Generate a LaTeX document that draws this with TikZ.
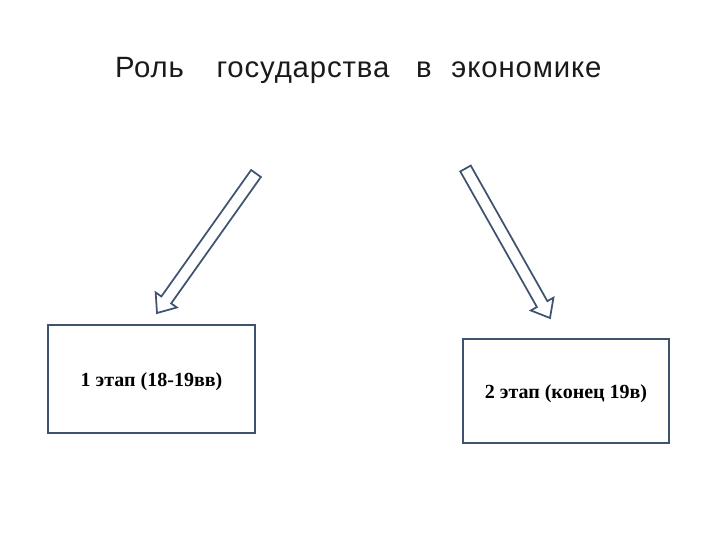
\documentclass[tikz,border=0pt]{standalone}
\usepackage{fontspec}
\setmainfont{Liberation Serif}
\newfontfamily\titlefont[LetterSpace=3]{Liberation Sans}
\usetikzlibrary{calc}
\definecolor{edgeblue}{HTML}{3F5371}
\definecolor{titlegray}{HTML}{1A1A1A}
\tikzset{
  titleword/.style={font=\titlefont\fontsize{22}{26}\selectfont, text=titlegray, anchor=base, inner sep=0pt},
  stagebox/.style={draw=edgeblue, line width=1.5pt, fill=white},
  stagetext/.style={font=\bfseries\fontsize{15}{18}\selectfont, text=black},
  blockarrow/.style={draw=edgeblue, line width=1.3pt, fill=white, line join=miter},
}
\newcommand{\hollowarrow}[2]{%
  \coordinate (hb) at ($(#2)!12pt!(#1)$);
  \draw[blockarrow]
    ($(#1)!4.5pt!90:(#2)$) -- ($(hb)!4.5pt!90:(#2)$) -- ($(hb)!9.75pt!90:(#2)$) --
    (#2) -- ($(hb)!9.75pt!-90:(#2)$) -- ($(hb)!4.5pt!-90:(#2)$) --
    ($(#1)!4.5pt!-90:(#2)$) -- cycle;
}
\begin{document}
\begin{tikzpicture}[x=0.75pt,y=-0.75pt]
\useasboundingbox[fill=white] (0,0) rectangle (720,540);
\node[titleword] (w1) at (149.5,77.5) {Роль};
\node[titleword] (w2) at (303,77.5) {государства};
\node[titleword] (w3) at (424,77.5) {в};
\node[titleword] (w4) at (526.5,77.5) {экономике};

\draw[stagebox] (48,325) rectangle (255,433);
\node[stagetext] (s1) at (151.5,382) {1 этап (18-19вв)};
\draw[stagebox] (463,339) rectangle (669,443);
\node[stagetext] (s2) at (566,394) {2 этап (конец 19в)};

\coordinate (a1t) at (256,173.5);
\coordinate (a1h) at (157,313);
\hollowarrow{a1t}{a1h}
\coordinate (a2t) at (465.5,168.5);
\coordinate (a2h) at (550,318);
\hollowarrow{a2t}{a2h}
\end{tikzpicture}
\end{document}
